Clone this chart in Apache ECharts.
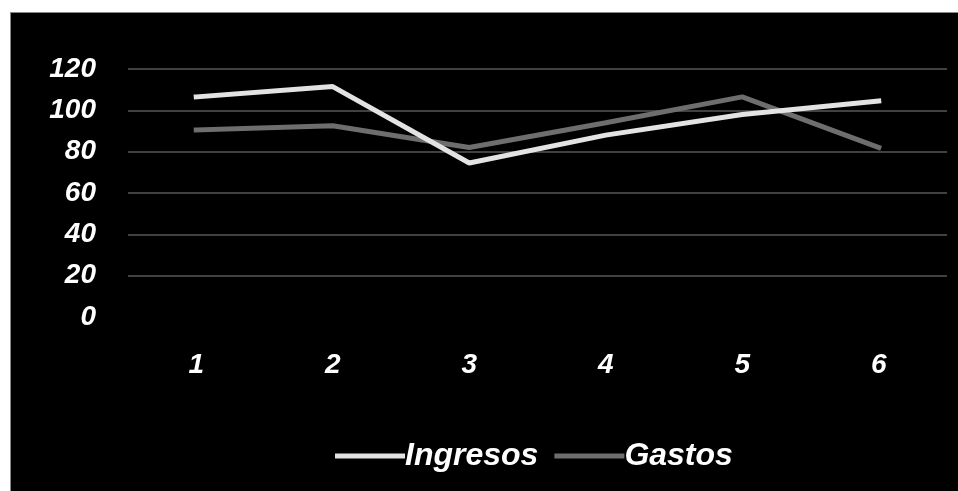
<!DOCTYPE html>
<html>
<head>
<meta charset="utf-8">
<script src="https://cdn.jsdelivr.net/npm/echarts@6/dist/echarts.min.js"></script>
<style>
  html, body { margin: 0; padding: 0; background: #fff; }
  #bg { position: absolute; left: 10px; top: 12px; width: 948px; height: 479px; background: #000; border-left: 1px solid #888; border-top: 1px solid #888; box-sizing: border-box; }
  #chart { position: absolute; left: 0; top: 0; width: 958px; height: 491px; }
</style>
</head>
<body>
<div id="bg"></div>
<div id="chart"></div>
<script>
const categories = ['1', '2', '3', '4', '5', '6'];
const ingresos = [106.5, 111.5, 74.5, 88, 98, 104.5];
const gastos = [90.5, 92.5, 82, 94, 106.5, 82];

const labelFont = {
  color: '#fff',
  fontFamily: 'Liberation Sans, Arial, sans-serif',
  fontWeight: 'bold',
  fontStyle: 'italic',
  fontSize: 28
};

const myChart = echarts.init(document.getElementById('chart'), null, { renderer: 'canvas' });

const option = {
  backgroundColor: 'transparent',
  animation: false,
  grid: { left: 128, right: 11, top: 69, bottom: 174 },
  legend: {
    left: 330,
    top: 435,
    icon: 'rect',
    itemWidth: 70,
    itemHeight: 5,
    itemGap: 16,
    textStyle: Object.assign({}, labelFont, { fontSize: 32, padding: [0, 0, 0, -5] }),
    data: ['Ingresos', 'Gastos']
  },
  xAxis: {
    type: 'category',
    data: categories,
    boundaryGap: true,
    axisLine: { show: false },
    axisTick: { show: false },
    axisLabel: Object.assign({ margin: 34 }, labelFont)
  },
  yAxis: {
    type: 'value',
    min: 0,
    max: 120,
    interval: 20,
    axisLine: { show: false },
    axisTick: { show: false },
    axisLabel: Object.assign({ margin: 32 }, labelFont),
    splitLine: {
      show: true,
      showMinLine: false,
      lineStyle: { color: '#575757', width: 1.5 }
    }
  },
  series: [
    {
      name: 'Ingresos',
      type: 'line',
      data: ingresos,
      symbol: 'none',
      itemStyle: { color: '#e3e3e3' },
      lineStyle: { color: '#e3e3e3', width: 5, cap: 'square' },
      z: 3
    },
    {
      name: 'Gastos',
      type: 'line',
      data: gastos,
      symbol: 'none',
      itemStyle: { color: '#6e6e6e' },
      lineStyle: { color: '#6e6e6e', width: 5, cap: 'square' },
      z: 2
    }
  ]
};

myChart.setOption(option, true);

window.addEventListener('resize', () => {
  setTimeout(() => {
    myChart && myChart.resize();
  }, 20);
}, false);
</script>
</body>
</html>
